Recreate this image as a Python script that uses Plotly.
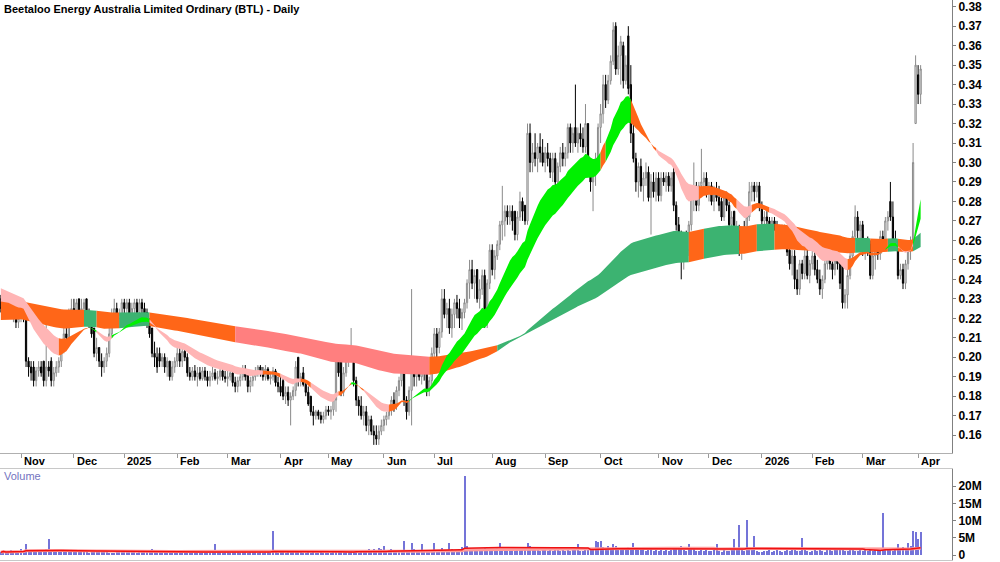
import numpy as np
import pandas as pd
import plotly.graph_objects as go

TITLE = "Beetaloo Energy Australia Limited Ordinary (BTL) - Daily"
START = "2024-10-22"
HOLIDAYS = ["2024-12-25", "2024-12-26", "2025-01-01", "2025-01-27", "2025-04-18",
            "2025-04-21", "2025-04-25", "2025-06-09", "2025-12-25", "2025-12-26",
            "2026-01-01", "2026-01-26"]

# ---- daily prices in cents ----
open_c = [
    23.0,22.5,22.5,22.8,22.5,22.2,22.3,21.8,
    22.0,22.5,22.0,19.8,19.5,19.5,18.8,19.3,19.5,19.8,18.8,19.5,19.8,18.8,19.2,19.5,19.8,20.5,21.2,21.0,22.2,
    22.5,22.3,23.0,22.2,22.5,23.0,22.0,21.8,21.5,20.2,20.5,19.8,19.5,19.8,20.2,21.2,22.2,22.5,22.0,22.2,
    22.8,22.5,22.8,22.2,22.5,22.8,22.3,22.8,22.5,22.3,21.8,21.5,20.2,20.0,20.2,19.8,20.0,19.5,19.8,19.0,19.5,
    19.8,20.2,19.8,20.3,20.0,19.2,19.0,19.3,19.0,19.2,18.9,19.3,19.0,18.8,19.0,19.2,18.9,19.0,19.3,19.0,
    18.9,19.0,19.2,18.7,18.5,18.8,19.0,19.4,19.2,18.5,18.8,19.0,19.3,19.5,19.2,19.0,19.4,18.9,19.0,19.3,18.7,
    18.5,18.8,18.0,18.2,17.8,18.0,18.3,20.0,18.8,19.2,18.6,18.2,18.0,17.2,17.0,17.2,17.0,16.8,17.0,
    17.3,17.2,17.3,17.8,19.8,20.0,18.2,19.2,20.0,20.2,20.5,18.8,17.8,17.5,17.0,17.2,16.5,16.8,16.2,16.0,15.8,16.2,
    16.5,16.8,17.0,17.3,17.8,17.5,18.3,18.8,19.5,17.8,17.2,18.3,19.5,19.0,19.3,19.0,19.4,19.4,18.3,18.8,
    20.2,21.2,20.5,21.3,23.0,22.2,22.5,21.5,22.2,22.8,22.5,22.0,22.3,22.8,23.8,24.5,23.8,24.5,23.0,23.5,24.2,21.8,23.8,
    25.5,24.5,25.2,25.8,26.8,27.0,27.5,27.2,27.5,27.5,26.3,27.2,28.0,27.8,27.0,31.5,30.0,30.5,30.2,30.8,30.5,
    30.0,30.5,30.2,29.5,30.2,29.0,29.8,30.5,30.2,30.5,31.8,31.0,31.8,31.0,31.5,31.2,30.8,32.0,29.8,29.0,29.5,30.2,
    31.8,32.5,34.0,33.2,34.2,35.2,37.0,34.8,35.5,36.0,34.2,36.5,34.0,31.5,30.2,29.0,29.8,28.8,29.2,29.5,28.2,29.0,28.5,
    29.2,28.3,29.2,29.0,29.3,28.8,29.5,27.8,26.8,25.8,25.0,25.8,25.5,26.8,28.2,28.8,27.8,28.8,29.0,29.2,
    28.5,28.8,28.0,28.5,28.2,28.0,27.2,28.2,27.8,26.8,27.5,25.8,26.5,25.5,26.2,25.8,27.2,28.5,28.8,28.5,28.8,
    27.8,27.0,27.2,27.0,26.5,27.0,26.8,26.2,26.5,26.3,26.2,25.5,24.8,25.2,24.0,23.5,24.8,24.3,25.2,24.2,
    24.8,25.2,24.5,24.0,23.5,24.0,24.8,25.2,24.8,24.5,25.2,24.8,25.0,22.8,23.2,24.2,25.2,26.2,27.2,26.5,
    26.8,25.5,25.8,25.8,24.2,25.2,25.5,25.3,26.2,26.0,27.0,28.0,27.2,26.0,25.8,24.2,24.5,23.8,24.8,25.8,26.0,32.0,34.5,33.5,
]
high_c = [
    23.2,23.0,23.0,23.0,22.8,22.5,22.5,22.2,
    23.0,22.8,22.0,20.0,19.8,19.8,19.5,19.8,19.8,19.8,21.8,19.8,20.0,19.5,19.8,20.0,20.8,21.5,22.0,22.5,23.0,
    23.0,23.0,23.0,23.0,23.0,23.0,22.5,22.2,21.5,21.0,20.5,20.2,20.0,20.5,21.5,22.5,23.0,22.8,22.5,23.0,
    23.0,23.0,23.0,22.8,23.0,23.0,23.0,23.0,22.8,22.5,22.0,21.5,20.8,20.5,20.5,20.2,20.2,20.0,19.8,19.8,20.0,
    20.5,20.5,20.5,20.5,20.2,19.5,19.5,19.6,19.5,19.5,19.5,19.5,19.3,19.3,19.5,19.4,19.3,19.5,19.5,19.3,
    19.3,19.5,19.5,19.0,19.0,19.2,19.6,19.6,19.2,19.0,19.2,19.5,19.6,19.6,19.5,19.6,19.5,19.2,19.5,19.4,19.0,
    19.0,19.0,18.5,18.5,18.2,18.5,19.8,20.0,19.2,19.5,18.8,18.5,18.0,17.5,17.3,17.3,17.2,17.2,17.5,
    17.5,17.5,18.0,20.0,20.0,20.0,19.5,20.2,20.5,21.5,20.5,19.0,18.0,18.0,17.5,17.5,17.0,17.0,16.5,16.5,16.5,16.8,
    17.0,17.2,17.5,18.0,18.2,18.5,19.0,19.5,19.5,18.0,18.5,23.5,19.8,19.5,19.6,19.5,19.6,19.5,19.0,20.5,
    21.5,21.5,21.5,23.5,23.5,22.8,23.0,22.5,23.0,23.2,23.0,22.5,23.0,24.0,25.0,25.0,24.5,24.5,24.0,24.5,24.5,24.0,25.8,
    25.8,25.5,26.0,27.0,28.8,27.8,27.8,27.8,27.8,27.5,27.5,28.5,28.2,27.8,32.0,32.0,31.0,31.5,31.0,31.5,31.2,
    30.8,31.0,30.5,30.5,30.5,30.0,30.8,31.0,30.8,32.0,32.0,31.8,34.0,31.8,32.0,31.8,33.0,32.0,30.2,29.8,30.5,32.0,
    33.0,34.5,34.5,34.5,35.5,37.2,37.2,36.0,36.5,36.2,35.5,37.0,35.0,32.5,30.5,30.0,30.2,29.5,30.0,29.8,29.4,29.5,29.5,
    29.5,29.5,29.5,29.5,29.5,29.5,29.8,28.0,27.2,26.5,26.0,26.5,27.0,28.5,30.0,29.0,29.0,30.7,29.5,29.5,
    29.0,29.0,28.8,29.0,28.8,28.2,28.5,28.5,28.0,27.5,27.5,27.0,26.8,26.5,27.0,27.5,29.0,29.0,29.0,29.0,29.0,
    28.0,27.5,27.5,27.2,27.2,27.2,27.0,26.8,26.8,26.8,26.3,25.8,25.5,25.5,24.5,25.0,25.0,25.5,25.5,25.0,
    25.5,25.5,25.0,24.5,24.2,25.0,25.5,25.5,25.2,25.5,25.5,25.0,25.0,23.5,24.5,25.5,26.5,27.8,27.5,27.0,
    27.0,26.0,26.2,26.0,25.5,25.8,26.0,26.5,26.5,27.2,27.5,29.0,28.0,26.5,26.0,24.8,24.8,25.0,26.0,26.2,31.0,35.5,35.0,35.0,
]
low_c = [
    22.3,22.0,22.0,22.3,22.0,21.8,21.5,21.5,
    21.8,21.8,19.5,19.0,18.8,18.5,18.5,19.0,19.0,18.5,18.5,19.0,18.5,18.5,19.0,19.2,19.5,20.2,20.5,20.8,21.8,
    22.0,21.8,22.0,21.8,22.0,21.8,21.5,21.0,20.0,19.8,19.5,19.0,19.2,19.5,20.0,21.0,21.8,21.8,21.5,22.0,
    22.0,22.2,22.0,21.8,22.2,22.0,22.0,22.2,21.8,21.5,21.0,20.0,19.5,19.2,19.5,19.5,19.2,19.0,18.8,18.8,19.2,
    19.5,19.5,19.5,19.8,19.0,18.8,18.8,18.8,18.5,18.8,18.8,18.8,18.5,18.5,18.8,18.8,18.6,18.8,18.8,18.7,
    18.5,18.8,18.5,18.2,18.2,18.5,18.8,18.8,18.2,18.2,18.5,18.8,19.0,19.0,18.8,18.8,18.8,18.6,18.8,18.5,18.2,
    18.0,17.8,17.6,17.5,16.5,17.8,18.0,18.5,18.5,18.5,18.0,17.5,17.0,16.5,16.8,16.8,16.6,16.6,16.8,
    17.0,16.8,17.0,17.2,19.0,18.0,18.0,19.0,19.5,19.8,18.5,17.5,17.0,16.8,16.5,16.2,16.0,16.0,15.5,15.5,15.5,16.0,
    16.2,16.5,16.8,17.0,17.2,17.3,18.0,18.5,17.5,16.8,17.0,16.5,18.5,18.5,18.8,18.6,18.8,18.0,18.0,18.5,
    19.8,20.0,20.2,21.0,22.0,21.5,21.2,21.0,21.5,22.0,21.5,21.4,22.0,22.5,23.0,23.5,23.0,22.8,22.5,23.2,21.5,21.5,23.5,
    24.2,24.0,25.0,25.5,26.0,26.2,26.8,26.8,26.5,26.0,26.0,27.0,27.0,26.8,26.8,29.5,29.5,29.8,29.5,30.0,29.8,
    29.5,29.8,29.2,29.0,28.8,28.8,29.5,29.8,29.8,30.2,30.5,30.5,30.8,30.5,30.8,30.5,30.5,29.5,28.5,27.5,28.8,29.8,
    31.0,32.0,32.8,33.0,34.0,35.0,34.5,34.5,34.0,33.8,34.0,33.5,31.0,30.0,28.5,28.2,28.5,28.0,28.8,28.0,26.3,28.2,28.0,
    28.0,28.0,28.8,28.5,28.5,28.5,27.5,26.5,25.5,24.0,24.5,25.0,25.2,26.5,27.5,27.5,27.5,28.5,28.5,28.2,
    28.0,27.8,27.5,28.0,27.5,27.0,27.0,27.5,26.5,26.5,25.5,25.5,25.2,25.0,25.5,25.5,27.0,28.0,28.0,28.2,27.5,
    26.8,26.5,26.8,26.2,26.3,26.5,26.0,26.0,26.0,25.8,25.2,24.5,24.2,23.5,23.2,23.2,24.0,24.0,24.0,23.8,
    24.5,24.2,23.8,23.2,23.0,23.8,24.5,24.5,24.0,24.2,24.5,23.5,22.5,22.5,22.5,24.0,25.0,26.0,26.0,25.8,
    25.2,25.0,25.2,24.0,24.0,24.5,25.0,25.0,25.5,25.8,26.5,27.0,25.5,25.5,24.0,24.0,23.5,23.5,24.5,25.0,25.5,32.0,33.0,33.0,
]
close_c = [
    22.5,22.5,22.8,22.5,22.2,22.3,21.8,22.0,
    22.5,22.0,19.8,19.5,19.2,18.8,19.3,19.5,19.2,18.8,19.5,19.3,18.8,19.2,19.5,19.8,20.5,21.2,21.0,22.2,22.5,
    22.3,22.8,22.2,22.5,22.8,22.0,21.8,21.2,20.2,20.5,19.8,19.5,19.8,20.2,21.2,22.2,22.5,22.0,22.2,22.8,
    22.5,22.8,22.2,22.5,22.8,22.3,22.8,22.5,22.0,21.8,21.2,20.2,20.0,19.5,19.8,20.0,19.5,19.8,19.0,19.5,19.8,
    20.2,19.8,20.3,20.0,19.2,19.0,19.3,19.0,19.2,18.9,19.3,19.0,18.8,19.0,19.2,18.9,19.0,19.3,19.0,18.9,
    19.0,19.2,18.7,18.5,18.8,19.0,19.4,19.0,18.5,18.8,19.0,19.3,19.5,19.2,19.0,19.4,18.9,19.0,19.3,18.7,18.5,
    18.2,18.0,18.2,17.8,18.0,18.3,19.5,18.8,19.0,18.6,18.2,17.6,17.2,17.0,17.2,17.0,16.8,17.0,17.3,
    17.2,17.3,17.8,19.8,19.2,18.2,19.2,20.0,20.2,20.5,18.8,17.8,17.5,17.0,17.2,16.5,16.8,16.2,16.0,15.8,16.2,16.5,
    16.8,17.0,17.3,17.8,17.5,18.3,18.8,19.3,17.8,17.2,18.3,19.5,19.0,19.3,19.0,19.4,19.2,18.3,18.8,20.2,
    21.2,20.5,21.3,23.0,22.2,22.5,21.5,22.2,22.8,22.5,22.0,22.3,22.8,23.8,24.5,23.8,24.2,23.0,23.5,24.2,21.8,23.8,25.5,
    24.5,25.2,25.8,26.8,27.0,27.5,27.2,27.5,27.0,26.3,27.2,28.0,27.5,27.0,31.5,30.0,30.5,30.2,30.8,30.5,30.0,
    30.5,30.2,29.5,30.2,29.0,29.8,30.5,30.2,30.5,31.8,31.0,31.5,31.0,31.5,31.2,30.8,32.0,29.8,29.0,29.5,30.2,31.8,
    32.5,34.0,33.2,34.2,35.2,36.8,34.8,35.5,36.2,34.2,35.0,33.8,31.5,30.2,29.0,29.8,28.8,29.2,29.5,28.2,29.0,28.5,29.2,
    28.3,29.2,29.0,29.3,28.8,29.2,27.8,26.8,25.8,25.0,25.8,25.5,26.8,28.2,28.5,27.8,28.8,29.0,29.2,28.5,
    28.8,28.0,28.5,28.2,27.8,27.2,28.2,27.8,26.8,27.2,25.8,26.5,25.5,26.2,25.8,27.2,28.5,28.8,28.5,28.8,27.8,
    27.0,27.2,27.0,26.5,27.0,26.8,26.2,26.5,26.3,26.0,25.4,24.8,25.2,24.0,23.5,24.8,24.3,25.2,24.2,24.8,
    25.2,24.5,24.0,23.5,24.0,24.8,25.2,24.8,24.5,25.2,24.8,23.8,22.8,23.2,24.2,25.2,26.2,27.2,26.5,26.8,
    25.5,25.8,25.5,24.2,25.2,25.5,25.3,26.2,26.0,27.0,27.2,27.2,26.0,25.8,24.2,24.5,23.8,24.8,25.8,26.0,30.0,35.0,33.5,34.8,
]
# ---- daily volume in millions of shares ----
volume_m = [
    0.8,1.2,0.6,0.9,1.5,0.7,1.0,0.8,
    1.8,1.2,3.0,1.5,1.0,0.9,1.3,0.7,0.8,1.1,1.6,4.5,1.2,0.9,0.8,1.4,1.0,0.7,1.2,0.9,1.1,
    0.9,1.3,0.7,0.8,1.0,1.2,0.6,0.9,1.4,1.1,0.8,0.7,1.5,1.0,0.6,0.5,0.4,0.8,0.9,0.7,
    0.8,1.0,0.7,1.2,0.9,0.6,0.8,1.1,0.7,0.9,1.3,1.6,1.0,0.8,0.7,1.2,0.9,0.6,0.8,1.0,0.7,
    0.9,0.7,1.1,0.8,1.2,0.6,0.7,1.5,0.9,0.6,0.8,1.0,0.7,0.5,0.9,3.0,1.1,0.8,0.6,0.7,
    0.8,0.6,0.9,1.2,0.7,0.5,0.8,1.0,0.6,0.7,0.9,1.1,0.6,0.8,0.5,0.7,0.9,0.6,7.0,0.8,0.6,
    0.7,0.9,0.6,0.8,1.0,0.7,1.1,0.9,1.0,0.6,0.5,0.7,0.6,0.8,0.5,0.6,0.7,0.5,0.6,
    0.6,0.5,0.8,1.2,0.9,1.0,0.7,0.8,1.1,1.3,0.7,1.5,0.6,0.8,0.9,1.0,1.6,1.2,1.8,1.4,2.0,1.6,
    2.5,1.3,1.0,1.7,1.2,0.9,1.5,1.1,4.0,1.4,1.2,3.5,1.6,1.3,1.0,3.0,1.2,1.5,0.9,1.4,
    3.5,1.5,1.2,2.0,1.4,1.1,3.5,1.6,1.3,1.0,1.8,2.2,23.0,2.5,1.8,1.5,1.2,1.7,1.3,1.1,2.0,1.6,1.4,
    1.8,1.5,2.2,3.5,1.6,1.3,1.9,1.2,1.5,1.1,1.8,1.4,1.6,2.0,3.5,2.5,1.7,1.3,1.5,1.2,1.4,
    1.5,1.2,1.8,1.1,1.4,1.6,1.0,1.3,1.2,1.7,1.1,1.5,1.3,3.0,1.2,1.0,1.6,1.4,1.8,2.0,4.0,3.8,
    4.0,2.2,1.8,2.5,2.0,3.0,2.4,1.8,1.5,2.0,1.6,2.2,1.7,3.5,2.0,1.5,1.3,1.8,1.2,1.4,1.6,1.1,1.3,
    1.2,1.5,1.0,1.3,1.1,1.4,1.6,1.8,2.0,2.5,1.5,1.2,3.0,1.6,1.8,1.2,1.0,1.4,1.1,1.3,
    1.2,1.0,1.4,3.0,1.1,0.9,1.3,1.0,1.2,1.5,4.5,1.6,8.5,1.4,1.2,10.0,1.8,1.3,5.5,1.0,0.8,
    0.9,1.2,1.0,1.3,0.8,1.1,1.4,1.0,0.9,1.2,1.5,1.1,1.3,1.6,1.2,1.0,5.0,1.4,1.1,0.9,
    1.0,1.3,1.1,1.5,1.2,0.9,1.4,1.6,1.1,1.3,1.8,2.0,1.5,1.2,1.0,1.4,1.6,1.2,1.1,1.3,
    1.2,1.5,1.1,1.4,1.0,1.3,1.6,1.2,12.0,1.5,1.8,1.4,1.2,1.6,3.0,1.8,2.2,1.5,3.5,2.5,7.0,6.5,4.5,6.5,
]

# ---- moving-average ribbons (periods and starting levels) ----
SHORT_FAST, SHORT_SLOW = 20, 35
LONG_FAST, LONG_SLOW = 150, 250
SEED_SHORT_FAST, SEED_SHORT_SLOW = 0.229, 0.236
SEED_LONG_FAST, SEED_LONG_SLOW = 0.219, 0.229

# colour regimes: (first day, colour name)
long_regimes = [
    ("2024-10-22", "orange"), ("2024-12-06", "dgreen"), ("2024-12-13", "orange"),
    ("2024-12-30", "dgreen"), ("2025-01-16", "orange"), ("2025-03-06", "lred"),
    ("2025-06-27", "orange"), ("2025-08-05", "dgreen"), ("2025-11-19", "orange"),
    ("2025-11-27", "dgreen"), ("2025-12-17", "orange"), ("2025-12-30", "dgreen"),
    ("2026-01-09", "orange"), ("2026-02-25", "dgreen"), ("2026-03-05", "orange"),
    ("2026-03-16", "dgreen"), ("2026-03-20", "orange"), ("2026-03-30", "dgreen"),
]
short_regimes = [
    ("2024-10-22", "pink"), ("2024-11-22", "orange"), ("2024-12-10", "green"),
    ("2024-12-13", "pink"), ("2024-12-23", "green"), ("2025-01-16", "pink"),
    ("2025-03-21", "orange"), ("2025-04-01", "pink"), ("2025-04-11", "orange"),
    ("2025-04-17", "pink"), ("2025-05-07", "orange"), ("2025-05-14", "green"),
    ("2025-05-16", "orange"), ("2025-05-21", "pink"), ("2025-06-04", "orange"),
    ("2025-06-17", "green"), ("2025-10-01", "orange"), ("2025-10-03", "green"),
    ("2025-10-17", "orange"), ("2025-10-31", "pink"), ("2025-11-25", "orange"),
    ("2025-12-16", "pink"), ("2025-12-24", "orange"), ("2026-01-07", "pink"),
    ("2026-02-20", "orange"), ("2026-03-13", "green"), ("2026-03-20", "pink"),
    ("2026-03-30", "green"),
]
COLORS = {"orange": "#ff6618", "dgreen": "#3cb371", "lred": "#ff7f7f",
          "pink": "#ffb5b5", "green": "#00f000"}

# ---------------------------------------------------------------------------
n = len(close_c)
days = pd.bdate_range(START, periods=n + 40, freq="C", holidays=HOLIDAYS)[:n]
xs = np.arange(n)

o = np.array(open_c) / 100
h = np.array(high_c) / 100
l = np.array(low_c) / 100
c = np.array(close_c) / 100
vol = np.array(volume_m)


def ema(values, period, seed):
    a = 2.0 / (period + 1)
    out, e = [], seed
    for v in values:
        e = e + a * (v - e)
        out.append(e)
    return np.array(out)


s_f = ema(c, SHORT_FAST, SEED_SHORT_FAST)
s_s = ema(c, SHORT_SLOW, SEED_SHORT_SLOW)
l_f = ema(c, LONG_FAST, SEED_LONG_FAST)
l_s = ema(c, LONG_SLOW, SEED_LONG_SLOW)
short_hi, short_lo = np.maximum(s_f, s_s), np.minimum(s_f, s_s)
long_hi, long_lo = np.maximum(l_f, l_s), np.minimum(l_f, l_s)

FONT = "Liberation Sans Narrow, Arial Narrow, Liberation Sans, Arial, sans-serif"
fig = go.Figure()


def add_ribbon(regimes, hi, lo):
    starts = [int(days.searchsorted(pd.Timestamp(d))) for d, _ in regimes]
    for k, (d, col) in enumerate(regimes):
        s = starts[k]
        e = starts[k + 1] if k + 1 < len(starts) else n - 1
        idx = list(range(s, e + 1))
        px = idx + idx[::-1]
        py = list(hi[idx]) + list(lo[idx][::-1])
        fig.add_trace(go.Scatter(x=px, y=py, fill="toself", mode="lines",
                                 line=dict(width=0, color=COLORS[col]),
                                 fillcolor=COLORS[col], hoverinfo="skip",
                                 showlegend=False, xaxis="x", yaxis="y"))


add_ribbon(long_regimes, long_hi, long_lo)
add_ribbon(short_regimes, short_hi, short_lo)

fig.add_trace(go.Candlestick(
    x=xs, open=o, high=h, low=l, close=c, whiskerwidth=0,
    increasing=dict(line=dict(color="#8a8a8a", width=1), fillcolor="#ffffff"),
    decreasing=dict(line=dict(color="#000000", width=1), fillcolor="#000000"),
    showlegend=False, xaxis="x", yaxis="y"))

# volume
fig.add_trace(go.Bar(x=xs, y=vol, width=0.4, marker=dict(color="#7474d8", line=dict(width=0)),
                     showlegend=False, xaxis="x2", yaxis="y2"))
vma_long = pd.Series(vol).rolling(100, min_periods=1).mean()
vma_short = pd.Series(vol).rolling(50, min_periods=1).mean()
fig.add_trace(go.Scatter(x=xs, y=vma_long, mode="lines", line=dict(color="#ff9a9a", width=3),
                         showlegend=False, xaxis="x2", yaxis="y2"))
fig.add_trace(go.Scatter(x=xs, y=vma_short, mode="lines", line=dict(color="#ee1111", width=1.5),
                         showlegend=False, xaxis="x2", yaxis="y2"))

# month ticks
tick_idx, tick_txt = [], []
for i in range(1, n):
    if days[i].month != days[i - 1].month:
        tick_idx.append(i)
        tick_txt.append(str(days[i].year) if days[i].month == 1 else days[i].strftime("%b"))

PX = 2.52  # pixels per trading day
X0 = 0.84
XR = [(0 - X0) / PX, (952 - X0) / PX]
H = 562.0

price_ticks = [round(0.16 + 0.01 * k, 2) for k in range(23)]
fig.update_layout(
    width=1000, height=562, margin=dict(l=0, r=48, t=0, b=0),
    paper_bgcolor="white", plot_bgcolor="white", showlegend=False,
    xaxis=dict(domain=[0, 1], range=XR, tickvals=tick_idx, showticklabels=False,
               ticks="outside", ticklen=4, tickcolor="#9a9a9a", showgrid=False,
               zeroline=False, showline=True, linecolor="#b0b0b0", linewidth=1,
               anchor="y", rangeslider=dict(visible=False), fixedrange=True),
    yaxis=dict(domain=[1 - 455 / H, 1], range=[0.15064, 0.38343], side="right",
               tickvals=price_ticks, ticktext=[f"{v:.2f}" for v in price_ticks],
               ticks="outside", ticklen=3, tickcolor="#808080", showgrid=False,
               zeroline=False, showline=True, linecolor="#808080",
               ticklabeloverflow="allow",
               tickfont=dict(family=FONT, size=12, color="black", weight="bold")),
    xaxis2=dict(domain=[0, 1], range=XR, matches="x", showticklabels=False, ticks="",
                showgrid=False, zeroline=False, showline=True, mirror=True,
                linecolor="#c8c8c8", anchor="y2"),
    yaxis2=dict(domain=[0, 1 - 471 / H], range=[-1.45, 24.93], side="right",
                tickvals=[0, 5, 10, 15, 20], ticktext=["0", "5M", "10M", "15M", "20M"],
                ticks="outside", ticklen=3, tickcolor="#808080", showgrid=False,
                zeroline=False, showline=True, linecolor="#808080",
                ticklabeloverflow="allow",
                tickfont=dict(family=FONT, size=12, color="black", weight="bold")),
    bargap=0,
)

annotations = [
    dict(text=TITLE, x=0, y=1 - 9 / H, xref="paper", yref="paper", xanchor="left",
         yanchor="middle", xshift=2, showarrow=False,
         font=dict(family=FONT, size=11, color="black", weight="bold")),
    dict(text="Volume", x=0, y=1 - 478 / H, xref="paper", yref="paper", xanchor="left",
         yanchor="middle", xshift=2, showarrow=False,
         font=dict(family="Liberation Sans, Arial, sans-serif", size=11, color="#7373c0")),
]
for ti, tt in zip(tick_idx, tick_txt):
    annotations.append(dict(text=tt, x=ti, y=1 - 463 / H, xref="x", yref="paper",
                            xanchor="left", yanchor="middle", xshift=1, showarrow=False,
                            font=dict(family=FONT, size=11, color="black", weight="bold")))
fig.update_layout(annotations=annotations)

fig.write_html("out.html")
